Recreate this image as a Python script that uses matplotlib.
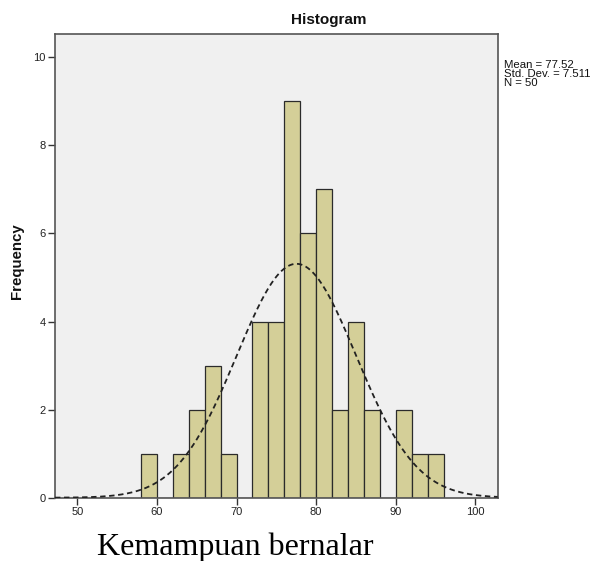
import numpy as np
import matplotlib
matplotlib.use("Agg")
import matplotlib.pyplot as plt

# Data
bin_edges = [58, 60, 62, 64, 66, 68, 70, 72, 74, 76, 78, 80, 82, 84, 86, 88, 90, 92, 94, 96]
counts = [1, 0, 1, 2, 3, 1, 0, 4, 4, 9, 6, 7, 2, 4, 2, 0, 2, 1, 1]
mean = 77.52
std = 7.511
n = 50
x_ticks = [50, 60, 70, 80, 90, 100]
y_ticks = [0, 2, 4, 6, 8, 10]

W, H = 596, 561
fig = plt.figure(figsize=(W / 100, H / 100), dpi=100)
fig.patch.set_facecolor("white")

left, right, top, bottom = 55, 497.7, 34, 497.7
ax = fig.add_axes([left / W, 1 - bottom / H, (right - left) / W, (bottom - top) / H])
ax.set_facecolor("#F0F0F0")

edges = np.array(bin_edges, dtype=float)
widths = np.diff(edges)
ax.bar(edges[:-1], counts, width=widths, align="edge", color="#D4CF98",
       edgecolor="#2b2b2b", linewidth=0.9, zorder=2)

binw = widths[0]
xs = np.linspace(47.2, 102.8, 400)
ys = n * binw / (std * np.sqrt(2 * np.pi)) * np.exp(-0.5 * ((xs - mean) / std) ** 2)
ax.plot(xs, ys, linestyle=(0, (3, 2)), color="#222222", linewidth=1.3, zorder=3)

ax.set_xlim(47.2, 102.8)
ax.set_ylim(0, 10.53)
ax.set_xticks(x_ticks)
ax.set_yticks(y_ticks)
ax.tick_params(axis="both", direction="out", length=5, width=1, color="#333333",
               labelsize=8, labelcolor="#222222", pad=1.8)
for lab in ax.get_xticklabels() + ax.get_yticklabels():
    lab.set_family(["Liberation Sans", "DejaVu Sans"])
for s in ax.spines.values():
    s.set_color("#555555")
    s.set_linewidth(1.2)

fig.text(329 / W, 1 - 20 / H, "Histogram", ha="center", va="center",
         fontsize=11, fontweight="bold", family=["Liberation Sans", "DejaVu Sans"],
         color="#111111")

fig.text(17 / W, 1 - 261 / H, "Frequency", ha="center", va="center", rotation=90,
         fontsize=10.8, fontweight="bold", family=["Liberation Sans", "DejaVu Sans"],
         color="#111111")

stats = [f"Mean = {mean:.2f}", f"Std. Dev. = {std:.3f}", f"N = {n}"]
for i, t in enumerate(stats):
    fig.text(504 / W, 1 - (65 + 8.9 * i) / H, t, ha="left", va="center",
             fontsize=8.2, family=["Liberation Sans", "DejaVu Sans"], color="#111111")

fig.text(97 / W, 1 - 555 / H, "Kemampuan bernalar", ha="left", va="baseline",
         fontsize=23, family=["Liberation Serif", "DejaVu Serif"], color="black")

fig.savefig("out.png", dpi=100)
